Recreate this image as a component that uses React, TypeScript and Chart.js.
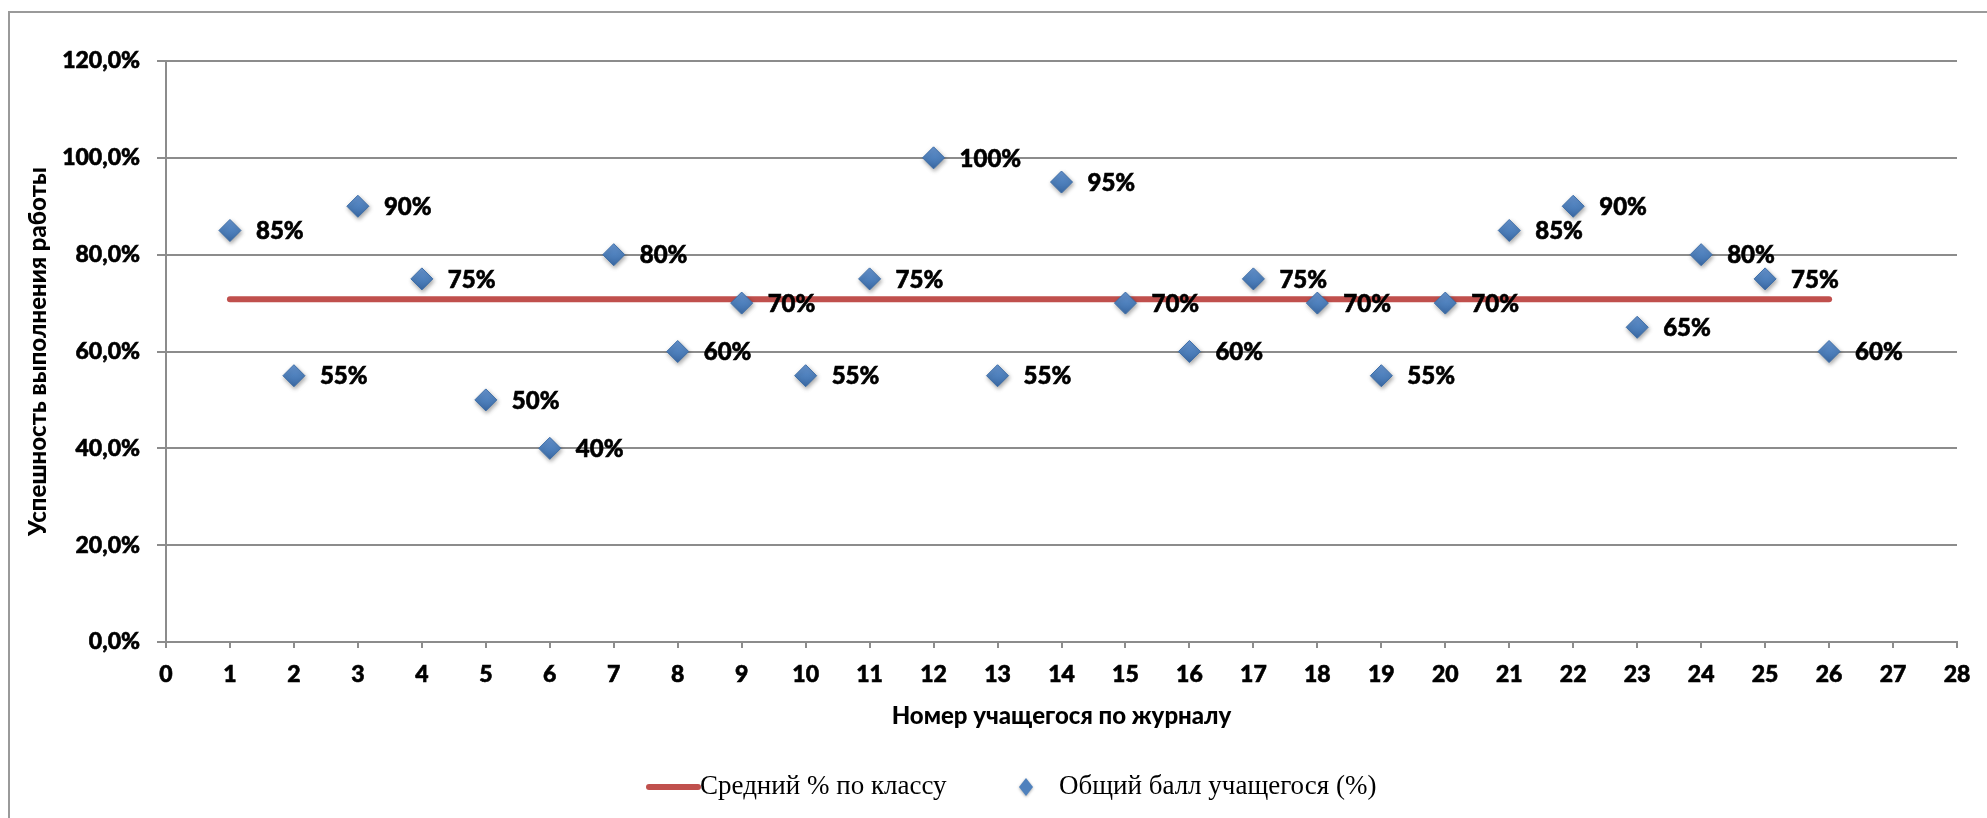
import React, { useEffect, useRef } from "react";
import { Chart, registerables } from "chart.js";

Chart.register(...registerables);

// ---- data ----
const STUDENTS = [1, 2, 3, 4, 5, 6, 7, 8, 9, 10, 11, 12, 13, 14, 15, 16, 17, 18, 19, 20, 21, 22, 23, 24, 25, 26];
const SCORES = [85, 55, 90, 75, 50, 40, 80, 60, 70, 55, 75, 100, 55, 95, 70, 60, 75, 70, 55, 70, 85, 90, 65, 80, 75, 60];
const CLASS_AVERAGE = 70.8;
const AVERAGE_FROM = 1;
const AVERAGE_TO = 26;
const X_MIN = 0;
const X_MAX = 28;
const Y_MIN = 0;
const Y_MAX = 120;
const Y_STEP = 20;
const SERIES_NAMES = ["Средний % по классу", "Общий балл учащегося (%)"];
const X_TITLE = "Номер учащегося по журналу";
const Y_TITLE = "Успешность выполнения работы";

const W = 1987;
const H = 818;
const SANS = "Lato, 'Open Sans', sans-serif";
const SERIF = "'Liberation Serif', 'DejaVu Serif', serif";
const RED = "#C0504D";
const BLUE = "#4F81BD";
const GRID = "#8c8c8c";

const framePlugin = {
  id: "frame",
  beforeDraw(chart: any) {
    const ctx = chart.ctx;
    ctx.save();
    ctx.fillStyle = "#ffffff";
    ctx.fillRect(0, 0, W, H);
    ctx.strokeStyle = "#9a9a9a";
    ctx.lineWidth = 2;
    ctx.beginPath();
    ctx.moveTo(9, H);
    ctx.lineTo(9, 12);
    ctx.lineTo(W, 12);
    ctx.stroke();
    ctx.restore();
  },
};

const shadowPlugin = {
  id: "pointShadow",
  beforeDatasetDraw(chart: any, args: any) {
    if (args.index !== 1) return;
    const ctx = chart.ctx;
    ctx.save();
    ctx.shadowColor = "rgba(0,0,0,0.35)";
    ctx.shadowBlur = 4;
    ctx.shadowOffsetX = 1;
    ctx.shadowOffsetY = 2;
  },
  afterDatasetDraw(chart: any, args: any) {
    if (args.index !== 1) return;
    chart.ctx.restore();
  },
};

const labelPlugin = {
  id: "pointLabels",
  afterDatasetsDraw(chart: any) {
    const ctx = chart.ctx;
    const meta = chart.getDatasetMeta(1);
    ctx.save();
    ctx.font = `900 24px ${SANS}`;
    ctx.fillStyle = "#000";
    ctx.strokeStyle = "#000";
    ctx.lineWidth = 0.6;
    ctx.textAlign = "left";
    ctx.textBaseline = "middle";
    meta.data.forEach((el: any, i: number) => {
      const { x, y } = el.getProps(["x", "y"], true);
      const t = `${SCORES[i]}%`;
      ctx.fillText(t, x + 26, y + 1);
      ctx.strokeText(t, x + 26, y + 1);
    });
    ctx.restore();
  },
};

const legendPlugin = {
  id: "customLegend",
  afterDraw(chart: any) {
    const ctx = chart.ctx;
    const y = 787;
    ctx.save();
    ctx.strokeStyle = RED;
    ctx.lineWidth = 6;
    ctx.lineCap = "round";
    ctx.beginPath();
    ctx.moveTo(649, y);
    ctx.lineTo(698, y);
    ctx.stroke();
    ctx.font = `27px ${SERIF}`;
    ctx.fillStyle = "#000";
    ctx.textAlign = "left";
    ctx.textBaseline = "middle";
    ctx.fillText(SERIES_NAMES[0], 700, y);
    ctx.save();
    ctx.shadowColor = "rgba(0,0,0,0.35)";
    ctx.shadowBlur = 3;
    ctx.shadowOffsetY = 1;
    ctx.fillStyle = BLUE;
    ctx.beginPath();
    ctx.moveTo(1026, y - 9);
    ctx.lineTo(1033, y);
    ctx.lineTo(1026, y + 9);
    ctx.lineTo(1019, y);
    ctx.closePath();
    ctx.fill();
    ctx.restore();
    ctx.fillText(SERIES_NAMES[1], 1059, y);
    ctx.restore();
  },
};

const pointFill = (c: any) => {
  if (c.type !== "data" || !c.chart.scales || !c.chart.scales.y || !c.raw) return BLUE;
  const py = c.chart.scales.y.getPixelForValue(c.raw.y);
  if (!Number.isFinite(py)) return BLUE;
  const g = c.chart.ctx.createLinearGradient(0, py - 11, 0, py + 11);
  g.addColorStop(0, "#6896d2");
  g.addColorStop(0.5, "#4F81BD");
  g.addColorStop(1, "#3b6aa6");
  return g;
};

const tickFont = { family: SANS, size: 23, weight: "900" };
const titleFont = { family: SANS, size: 24, weight: "900" };

export default function App() {
  const ref = useRef<HTMLCanvasElement | null>(null);

  useEffect(() => {
    if (!ref.current) return;
    const chart = new Chart(ref.current, {
      type: "scatter",
      data: {
        datasets: [
          {
            type: "line",
            label: SERIES_NAMES[0],
            data: [
              { x: AVERAGE_FROM, y: CLASS_AVERAGE },
              { x: AVERAGE_TO, y: CLASS_AVERAGE },
            ],
            borderColor: RED,
            borderWidth: 6,
            borderCapStyle: "round",
            pointRadius: 0,
            fill: false,
            order: 2,
          } as any,
          {
            type: "scatter",
            label: SERIES_NAMES[1],
            data: STUDENTS.map((s, i) => ({ x: s, y: SCORES[i] })),
            pointStyle: "rectRot",
            pointRadius: 11,
            backgroundColor: pointFill,
            borderColor: "#3d6ea8",
            borderWidth: 1,
            order: 1,
          } as any,
        ],
      },
      options: {
        responsive: false,
        animation: false,
        devicePixelRatio: 1,
        events: [],
        layout: { padding: { top: 61, right: 30, left: 0, bottom: 0 } },
        plugins: {
          legend: { display: false },
          tooltip: { enabled: false },
          title: { display: false },
        },
        scales: {
          x: {
            type: "linear",
            min: X_MIN,
            max: X_MAX,
            afterFit: (scale: any) => {
              scale.height = 176;
            },
            ticks: {
              stepSize: 1,
              autoSkip: false,
              maxRotation: 0,
              padding: 13,
              color: "#000",
              textStrokeColor: "#000",
              textStrokeWidth: 0.6,
              font: tickFont,
            },
            grid: {
              drawOnChartArea: false,
              drawTicks: true,
              tickLength: 6,
              color: GRID,
              lineWidth: 2,
            },
            border: { display: true, color: GRID, width: 2 },
            title: {
              display: true,
              text: X_TITLE,
              color: "#000",
              font: titleFont,
              padding: { top: 0, bottom: 87 },
            },
          },
          y: {
            type: "linear",
            min: Y_MIN,
            max: Y_MAX,
            afterFit: (scale: any) => {
              scale.width = 166;
            },
            ticks: {
              stepSize: Y_STEP,
              padding: 17,
              color: "#000",
              textStrokeColor: "#000",
              textStrokeWidth: 0.6,
              font: tickFont,
              callback: (v: any) => Number(v).toFixed(1).replace(".", ",") + "%",
            },
            grid: {
              color: GRID,
              lineWidth: 2,
              drawTicks: true,
              tickLength: 9,
            },
            border: { display: true, color: GRID, width: 2 },
            title: {
              display: true,
              text: Y_TITLE,
              color: "#000",
              font: titleFont,
              padding: { top: 24, bottom: 0 },
            },
          },
        },
      },
      plugins: [framePlugin, shadowPlugin, labelPlugin, legendPlugin],
    } as any);
    return () => chart.destroy();
  }, []);

  return (
    <div style={{ position: "absolute", left: 0, top: 0, width: W, height: H, background: "#fff" }}>
      <canvas ref={ref} width={W} height={H} style={{ display: "block", width: W, height: H }} />
    </div>
  );
}
